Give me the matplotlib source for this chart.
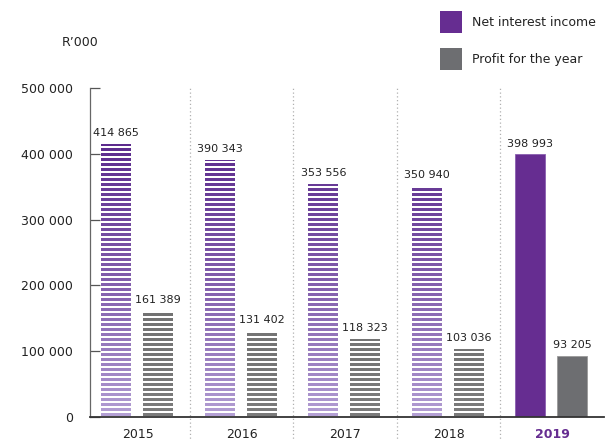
import numpy as np
import matplotlib
matplotlib.use("Agg")
import matplotlib.pyplot as plt
from matplotlib.colors import to_rgb
from matplotlib.patches import Patch

years = ["2015", "2016", "2017", "2018", "2019"]
net_interest = [414865, 390343, 353556, 350940, 398993]
profit = [161389, 131402, 118323, 103036, 93205]

PURPLE = "#662d91"
PURPLE_TOP = "#5b2a8c"
PURPLE_BOTTOM = "#b6a3d6"
GRAY = "#6d6e71"
GRAY_TOP = "#676767"
GRAY_BOTTOM = "#7c7c7c"

plt.rcParams["font.family"] = ["DejaVu Sans"]
plt.rcParams["font.size"] = 8

fig = plt.figure(figsize=(6.12, 4.41), dpi=100)
ax = fig.add_axes([90 / 612, 24 / 441, 514 / 612, 329 / 441])

x = np.arange(len(years))
off_p, off_g, width = -0.21, 0.195, 0.29
px = 500000 / 329          # one pixel in data units
period = 5 * px
dark = 3 * px


def mix(c1, c2, t):
    a, b = np.array(to_rgb(c1)), np.array(to_rgb(c2))
    return tuple(b + (a - b) * t)


def striped(xc, value, top, bottom):
    # horizontal slats stacked from just above zero up to the bar's value
    starts = np.arange(px, value, period)
    h = np.minimum(dark, value - starts)
    t = np.clip((starts + h) / 420000, 0, 1) ** 0.8
    cols = [mix(top, bottom, v) for v in t]
    ax.bar(np.full(len(starts), xc), h, bottom=starts, width=width,
           color=cols, linewidth=0)


for i in range(len(years)):
    if i < len(years) - 1:
        striped(x[i] + off_p, net_interest[i], PURPLE_TOP, PURPLE_BOTTOM)
        striped(x[i] + off_g, profit[i], GRAY_TOP, GRAY_BOTTOM)
    else:
        ax.bar(x[i] + off_p, net_interest[i], width=width, color=PURPLE,
               edgecolor="#8a5fb0", linewidth=0.6)
        ax.bar(x[i] + off_g, profit[i], width=width, color=GRAY,
               edgecolor="#9a9a9a", linewidth=0.6)
    ax.text(x[i] + off_p, net_interest[i] + 9000,
            f"{net_interest[i]:,}".replace(",", " "),
            ha="center", va="bottom", color="#222222")
    ax.text(x[i] + off_g, profit[i] + 9000,
            f"{profit[i]:,}".replace(",", " "),
            ha="center", va="bottom", color="#222222")

# dotted separators between the years, running below the axis
for s in x[:-1] + 0.5:
    ax.axvline(s, ymin=-0.1, ymax=1.0, color="#b0b0b0", linestyle=(0, (1, 2)),
               linewidth=0.9, clip_on=False, zorder=0)

ax.set_xlim(-0.464, 4.5)
ax.set_ylim(0, 500000)
ax.set_yticks(np.arange(0, 500001, 100000))
ax.set_yticklabels(["0"] + [f"{v:,}".replace(",", " ") for v in range(100000, 500001, 100000)])
ax.tick_params(axis="y", direction="in", length=7, width=0.9, color="#555555",
               pad=12, labelsize=9, labelcolor="#222222")
ax.set_xticks(x)
ax.set_xticklabels(years, fontsize=9, color="#222222")
ax.tick_params(axis="x", length=0, pad=8)
lbl = ax.get_xticklabels()[-1]
lbl.set_fontweight("bold")
lbl.set_color(PURPLE)

for side in ("top", "right"):
    ax.spines[side].set_visible(False)
ax.spines["left"].set_color("#666666")
ax.spines["left"].set_linewidth(0.9)
ax.spines["bottom"].set_color("#333333")
ax.spines["bottom"].set_linewidth(1.3)

fig.text(62 / 612, 1 - 42 / 441, "R\u2019000", fontsize=9, color="#222222",
         ha="left", va="center")

handles = [Patch(facecolor=PURPLE, label="Net interest income"),
           Patch(facecolor=GRAY, label="Profit for the year")]
fig.legend(handles=handles, loc="upper left",
           bbox_to_anchor=(440 / 612, 1 - 11 / 441), borderpad=0,
           borderaxespad=0, frameon=False, handlelength=1.76,
           handleheight=2.3, labelspacing=1.2, handletextpad=0.8,
           fontsize=9, labelcolor="#222222")

fig.savefig("out.png", dpi=100)
